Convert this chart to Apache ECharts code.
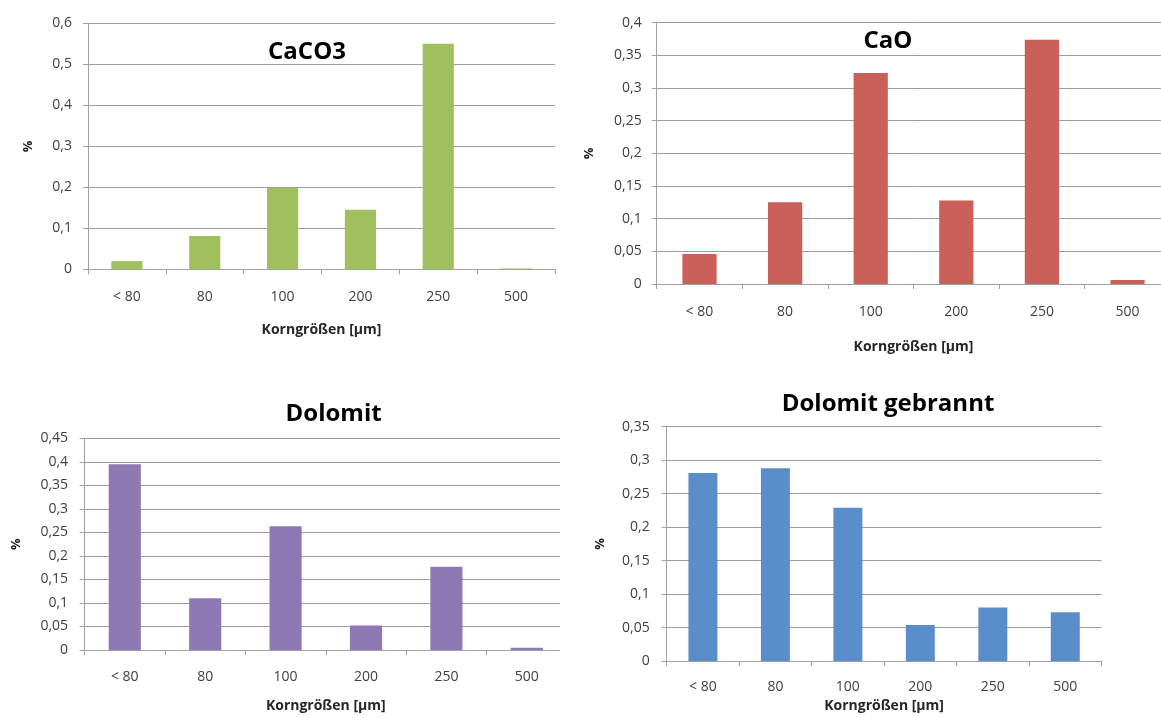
<!DOCTYPE html>
<html>
<head>
<meta charset="utf-8">
<script src="https://cdn.jsdelivr.net/npm/echarts@6/dist/echarts.min.js"></script>
<style>
  html, body { margin: 0; padding: 0; background: #fff; width: 1161px; height: 718px; overflow: hidden; }
  .wrap { position: absolute; overflow: hidden; }
  .inner { position: absolute; left: 0; top: 0; }
</style>
</head>
<body>
<div class="wrap" id="w1" style="left:0px;top:0px;width:565px;height:370px;"><div class="inner" id="c1" style="width:600px;height:370px;"></div></div>
<div class="wrap" id="w2" style="left:565px;top:0px;width:596px;height:375px;"><div class="inner" id="c2" style="width:640px;height:375px;"></div></div>
<div class="wrap" id="w3" style="left:0px;top:375px;width:560px;height:343px;"><div class="inner" id="c3" style="width:620px;height:343px;"></div></div>
<div class="wrap" id="w4" style="left:570px;top:375px;width:591px;height:343px;"><div class="inner" id="c4" style="width:600px;height:343px;"></div></div>
<script>
// ---- data ----
const categories = ['< 80', '80', '100', '200', '250', '500'];
const titles = ['CaCO3', 'CaO', 'Dolomit', 'Dolomit gebrannt'];
const caco3 = [0.02, 0.081, 0.199, 0.145, 0.55, 0.002];
const cao = [0.046, 0.125, 0.323, 0.128, 0.374, 0.006];
const dolomit = [0.395, 0.11, 0.263, 0.052, 0.177, 0.005];
const dolomitGebrannt = [0.281, 0.288, 0.229, 0.054, 0.08, 0.073];
const yMax = [0.6, 0.4, 0.45, 0.35];
const yInterval = [0.1, 0.05, 0.05, 0.05];
const xName = 'Korngrößen [µm]';
const yName = '%';

// ---- layout / style ----
const FONT = '"Open Sans", "Liberation Sans", sans-serif';
const colors = ['#A0C05E', '#CB5F59', '#8E79B3', '#5A8ECB'];
const layouts = [
  { grid: { left: 88, top: 23.3, width: 467, height: 246 }, title: { left: 302, top: 35 },
    xMargin: 21, xGap: 54, yMargin: 16, yGap: 53 },
  { grid: { left: 91.7, top: 22.7, width: 513.6, height: 261.3 }, title: { left: 318, top: 24 },
    xMargin: 21, xGap: 56, yMargin: 15, yGap: 61 },
  { grid: { left: 84.6, top: 63.3, width: 482.4, height: 217 }, title: { left: 328.6, top: 22 },
    xMargin: 20, xGap: 49, yMargin: 16.5, yGap: 62 },
  { grid: { left: 96.7, top: 51.7, width: 434.8, height: 244 }, title: { left: 313, top: 12 },
    xMargin: 19, xGap: 33, yMargin: 17, yGap: 60 }
];
const seriesData = [caco3, cao, dolomit, dolomitGebrannt];
const ids = ['c1', 'c2', 'c3', 'c4'];

function fmt(v) {
  return String(Math.round(v * 100) / 100).replace('.', ',');
}

ids.forEach(function (id, i) {
  const L = layouts[i];
  const chart = echarts.init(document.getElementById(id), null, { renderer: 'canvas' });
  chart.setOption({
    animation: false,
    backgroundColor: '#ffffff',
    title: {
      text: titles[i],
      left: L.title.left,
      top: L.title.top,
      textAlign: 'center',
      textStyle: { fontFamily: FONT, fontSize: 24, fontWeight: 'bold', color: '#000000' }
    },
    grid: Object.assign({ containLabel: false }, L.grid),
    xAxis: {
      type: 'category',
      data: categories,
      boundaryGap: true,
      name: xName,
      nameLocation: 'middle',
      nameGap: L.xGap,
      nameTextStyle: { fontFamily: FONT, fontSize: 14, fontWeight: 'bold', color: '#262626' },
      axisLine: { show: true, lineStyle: { color: '#a0a0a0', width: 1 } },
      axisTick: { show: true, length: 5, alignWithLabel: false, lineStyle: { color: '#a0a0a0' } },
      axisLabel: { margin: L.xMargin, fontFamily: FONT, fontSize: 14, color: '#404040', interval: 0 },
      splitLine: { show: false }
    },
    yAxis: {
      type: 'value',
      min: 0,
      max: yMax[i],
      interval: yInterval[i],
      name: yName,
      nameLocation: 'middle',
      nameRotate: 90,
      nameGap: L.yGap,
      nameTextStyle: { fontFamily: FONT, fontSize: 13, fontWeight: 'bold', color: '#262626' },
      axisLine: { show: true, lineStyle: { color: '#a0a0a0', width: 1 } },
      axisTick: { show: true, length: 5, lineStyle: { color: '#a0a0a0' } },
      axisLabel: { margin: L.yMargin, fontFamily: FONT, fontSize: 14, color: '#404040', formatter: fmt },
      splitLine: { show: true, lineStyle: { color: '#9c9c9c', width: 1 } }
    },
    series: [{
      type: 'bar',
      data: seriesData[i],
      barCategoryGap: '60%',
      itemStyle: { color: colors[i] }
    }]
  });
});
</script>
</body>
</html>
